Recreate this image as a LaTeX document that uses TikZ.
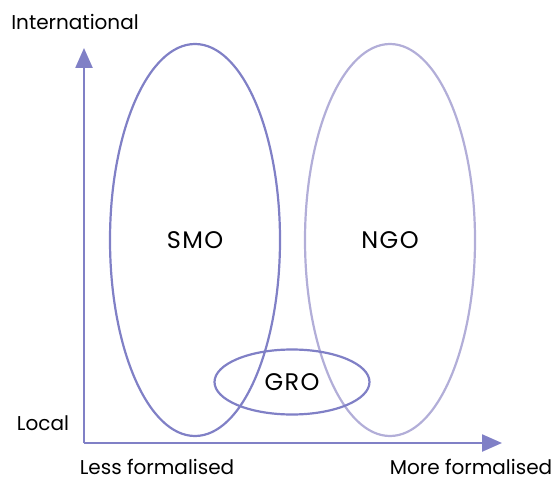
\documentclass[tikz,border=0pt]{standalone}
\usepackage{fontspec}
\setmainfont{Poppins}
\newfontfamily\orgfont[LetterSpace=6]{Poppins}
\usetikzlibrary{shapes.geometric,arrows.meta}
\definecolor{axisblue}{RGB}{128,128,198}
\definecolor{lightblue}{RGB}{178,174,216}

\begin{document}
\begin{tikzpicture}[x=1pt,y=-1pt,>={Triangle[length=20pt,width=17pt]},
  org/.style={ellipse,draw=axisblue,line width=2.2pt,inner sep=0pt,font=\orgfont\fontsize{24}{27}\selectfont},
  lbl/.style={inner sep=0pt,font=\fontsize{20}{24}\selectfont}]
  \useasboundingbox (0,0) rectangle (556,481);
  % axes
  \coordinate (O) at (84,443);
  \coordinate (Y) at (84,48);
  \coordinate (X) at (502,443);
  \draw[->,axisblue,line width=2.4pt] (O)--(Y);
  \draw[->,axisblue,line width=2.4pt] (O)--(X);
  \node[lbl] (intl) at (75,22) {International};
  \node[lbl] (local) at (43,423) {Local};
  \node[lbl,anchor=base] (less) at (157,474) {Less formalised};
  \node[lbl,anchor=base] (more) at (471,474) {More formalised};
  % organisations
  \node[org,draw=lightblue,minimum width=170pt,minimum height=392pt] (ngo) at (390,240) {NGO};
  \node[org,minimum width=170pt,minimum height=392pt] (smo) at (195,240) {SMO};
  \node[org,minimum width=155pt,minimum height=65pt] (gro) at (292,382) {GRO};
\end{tikzpicture}
\end{document}
